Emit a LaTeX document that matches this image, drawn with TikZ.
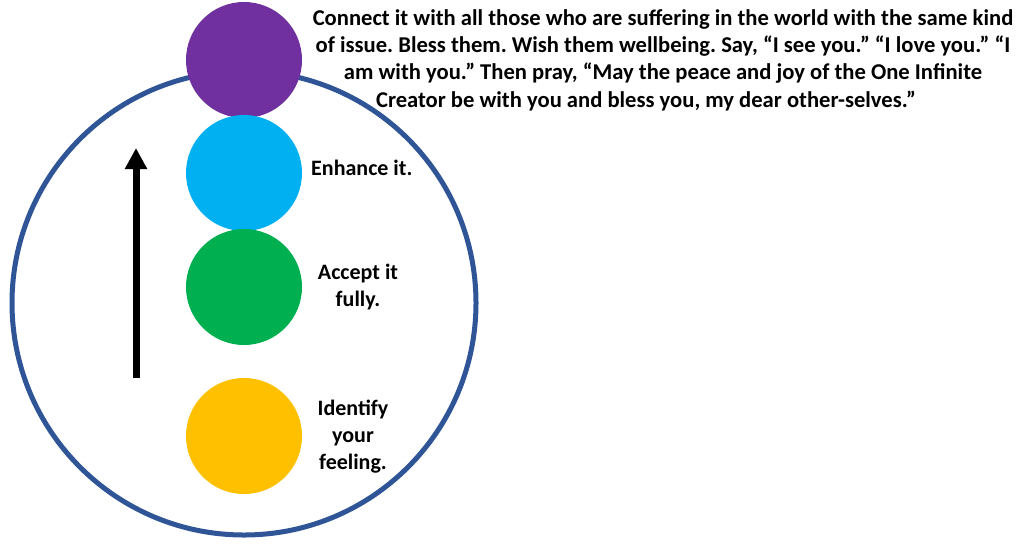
\documentclass[tikz,border=0pt]{standalone}
\usepackage{fontspec}
\setmainfont{Carlito}
\usetikzlibrary{arrows.meta}
\definecolor{cpurple}{HTML}{7030A0}
\definecolor{cblue}{HTML}{00B0F0}
\definecolor{cgreen}{HTML}{00B050}
\definecolor{cyellow}{HTML}{FFC000}
\definecolor{cring}{HTML}{2F5597}
\frenchspacing
\begin{document}
\begin{tikzpicture}[x=1pt,y=-1pt,
  dot/.style={circle,inner sep=0pt,minimum size=116pt},
  lbl/.style={font=\fontsize{22}{27}\selectfont\bfseries,align=center,inner sep=0pt},
  toptext/.style={font=\fontsize{22.6}{27.3}\selectfont\bfseries,align=center,inner sep=0pt},
  ring/.style={circle,draw=cring,line width=5pt,inner sep=0pt,minimum size=464pt}]
\useasboundingbox (0,0) rectangle (1024,549);
\fill[white] (0,0) rectangle (1024,549);
\node[ring] (R) at (244,303) {};
\node[dot,fill=cpurple] (P) at (244,60) {};
\node[dot,fill=cblue] (B) at (244,173) {};
\node[dot,fill=cgreen] (G) at (244,287) {};
\node[dot,fill=cyellow] (Y) at (244,436) {};
\coordinate (A0) at (136,378);
\coordinate (A1) at (136,148);
\draw[line width=7pt,-{Triangle[width=21pt,length=21pt]}] (A0) -- (A1);
\node[toptext] (T) at (663,60) {Connect it with all those who are suffering in the world with the same kind\\
of issue. Bless them. Wish them wellbeing. Say, “I see you.” “I love you.” “I\\
am with you.” Then pray, “May the peace and joy of the One Infinite\hspace*{28pt}\\
Creator be with you and bless you, my dear other-selves.”\hspace*{34pt}};
\node[lbl,anchor=west] (E) at (311,168) {Enhance it.};
\node[lbl] (AC) at (358,287) {Accept it\\fully.};
\node[lbl] (I) at (353,437) {Identify\\your\\feeling.};
\end{tikzpicture}
\end{document}
